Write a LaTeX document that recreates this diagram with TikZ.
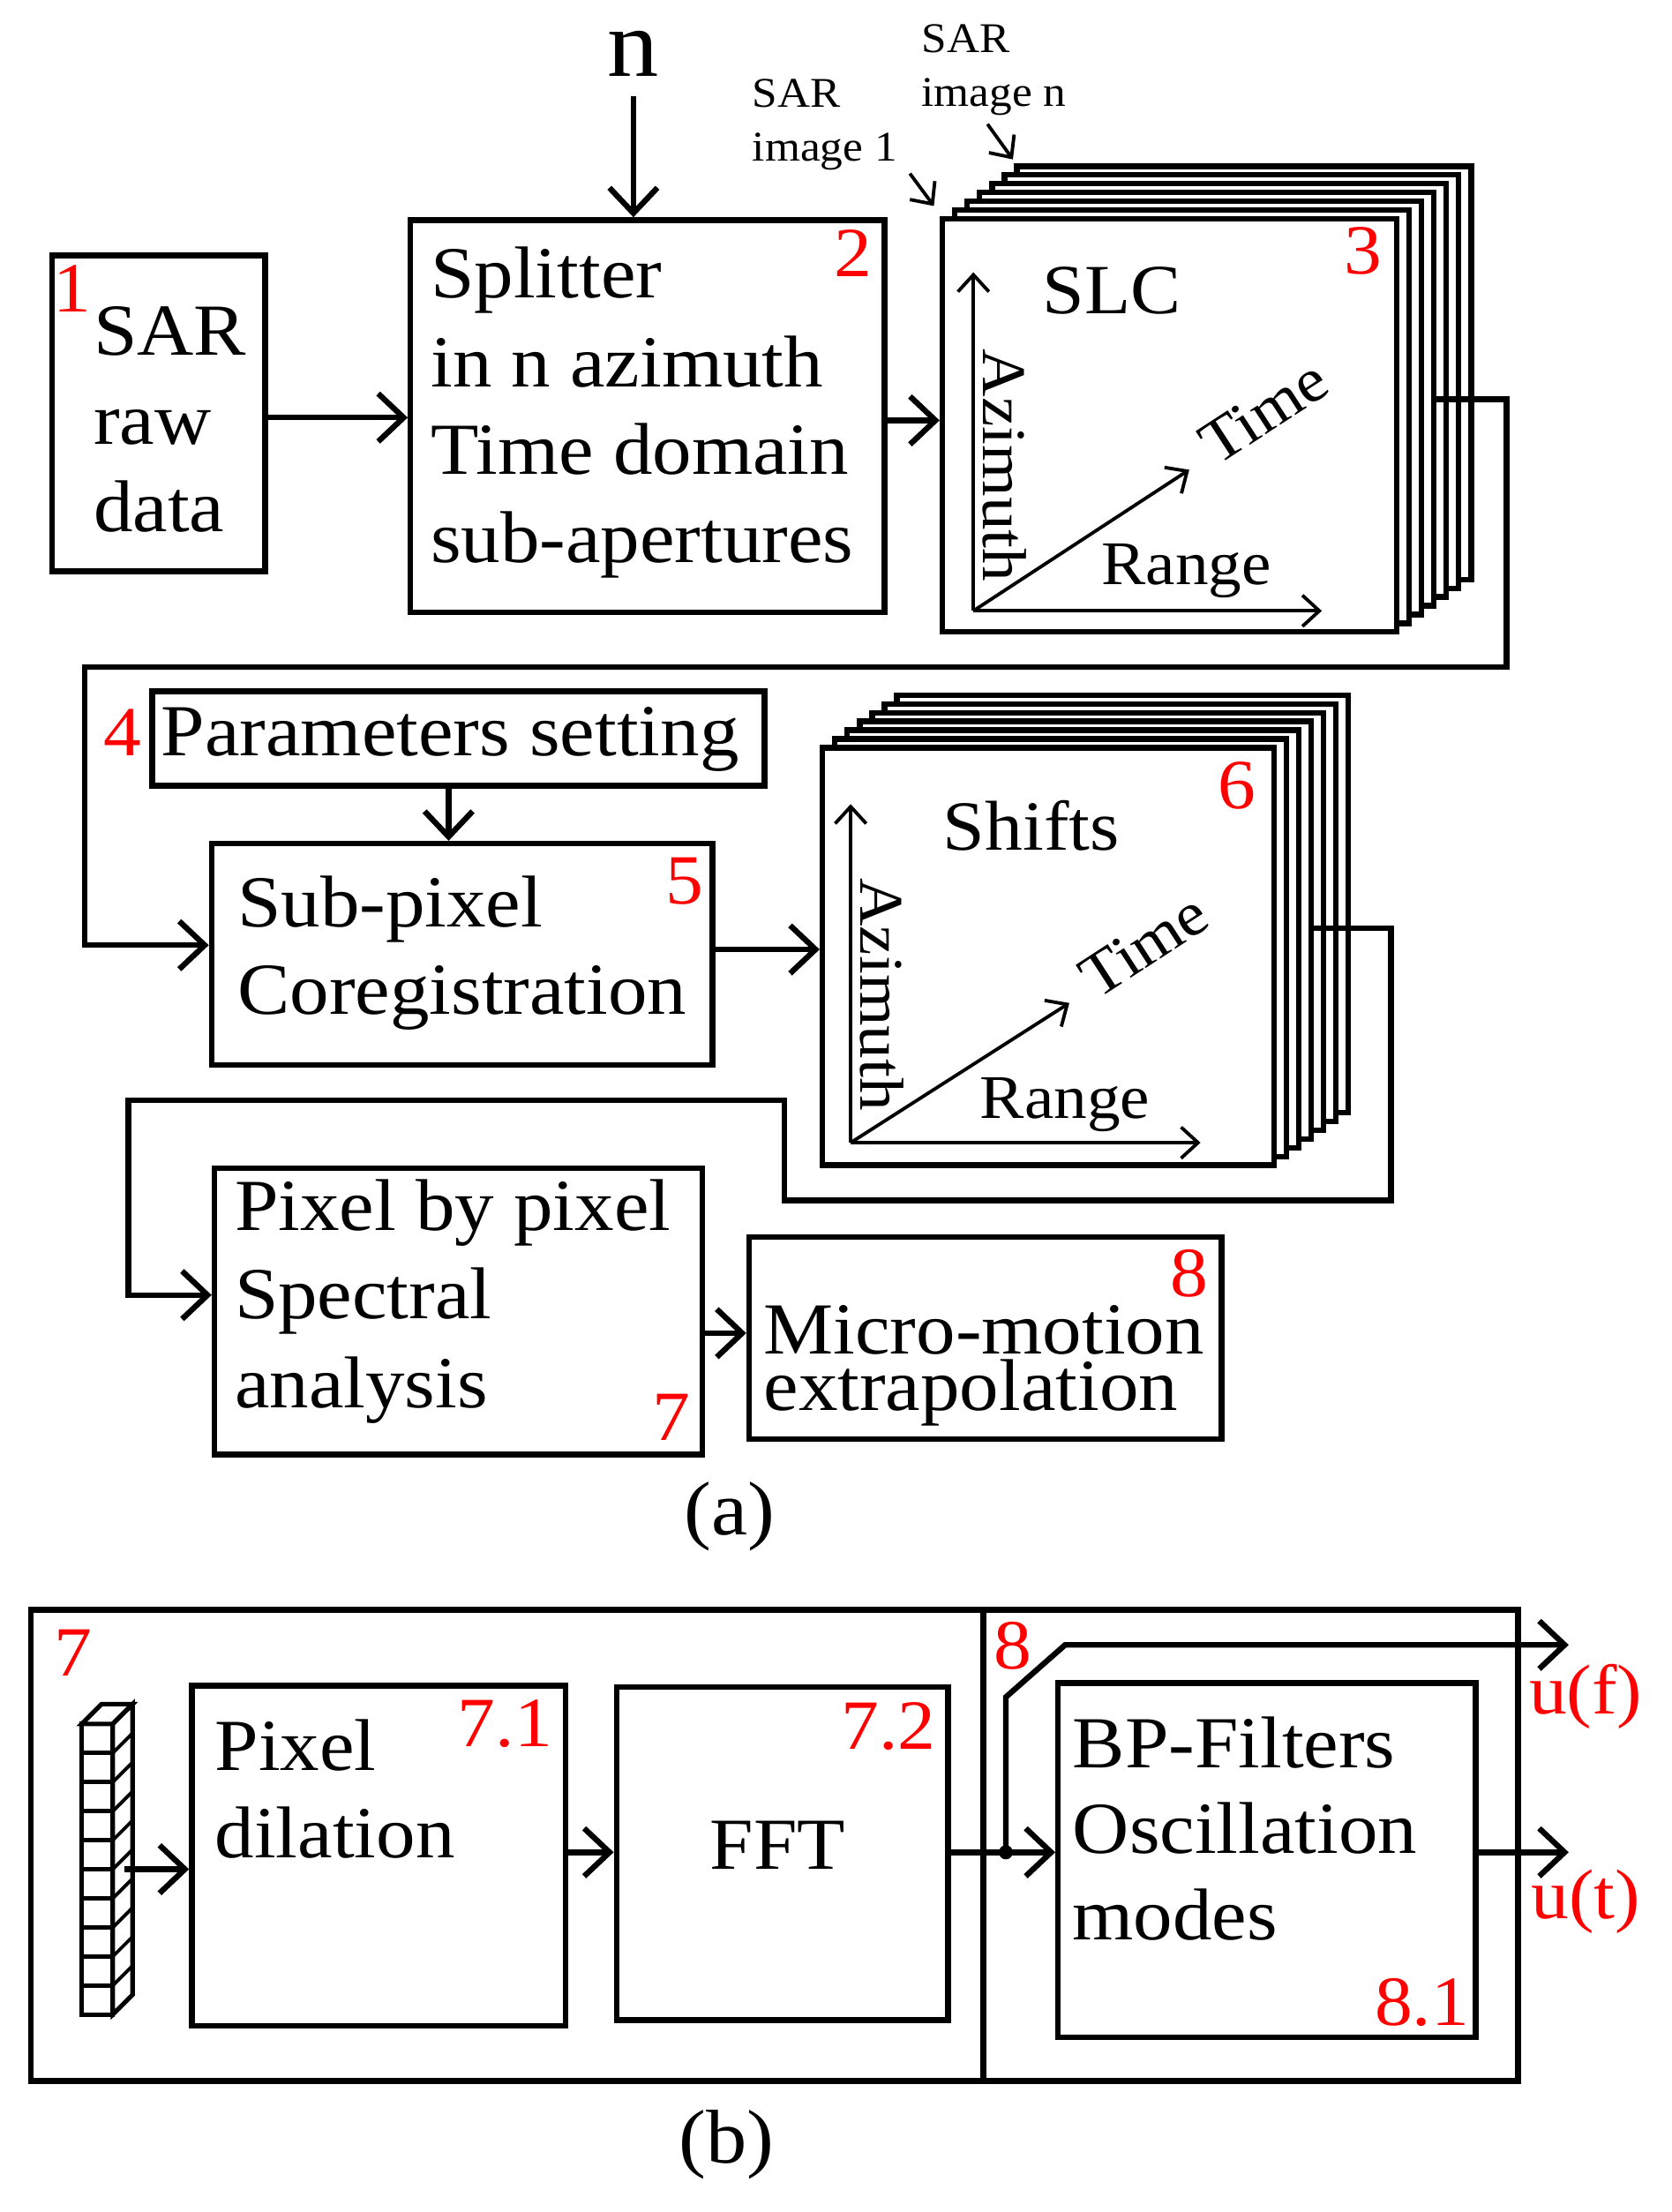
\documentclass[tikz,border=0pt]{standalone}
\usepackage{fontspec}
\setmainfont[FakeStretch=1.07]{Liberation Serif}
\usetikzlibrary{arrows.meta,fit}
\begin{document}
\begin{tikzpicture}[x=0.5pt,y=-0.5pt,
  lw/.style={line width=2pt},
  box/.style={draw,lw,inner sep=0pt,fill=white},
  arr/.style={lw,-{Straight Barb[length=9pt,width=17pt,line width=2pt]}},
  sarr/.style={line width=1.2pt,-{Straight Barb[length=6pt,width=11pt,line width=1.2pt]}},
  txt/.style={anchor=base west,inner sep=0pt,font=\fontsize{26}{30}\selectfont},
  red/.style={anchor=base,inner sep=0pt,text=red,font=\fontsize{25}{30}\selectfont},
  ax/.style={inner sep=0pt,font=\fontsize{22}{26}\selectfont},
  small/.style={anchor=north west,inner sep=0pt,align=left,font=\fontsize{15}{19}\selectfont}]
\useasboundingbox (0,0) rectangle (1185,1568);
% ---------- (a)
\node[box,fit={(37,181)(188,405)}] (b1) {};
\node[red] at (51,221) {1};
\node[txt] at (66,252) {SAR};
\node[txt] at (66,315) {raw};
\node[txt] at (66,377) {data};
\node[box,fit={(291,156)(627,434)}] (b2) {};
\node[txt] at (305,211) {Splitter};
\node[txt] at (305,274) {in n azimuth};
\node[txt] at (305,336) {Time domain};
\node[txt] at (305,399) {sub-apertures};
\node[red] at (605,196) {2};
\node[inner sep=0pt,font=\fontsize{34}{40}\selectfont] (n) at (449,38) {n};
\draw[arr] (n.south |- 0,68) -- (b2.north -| n.south);
\draw[arr] (b1.east |- 0,296) -- (b2.west |- 0,296);
% stack 3
\foreach \i in {6,5,...,1}
  \draw[lw,fill=white] ({668+\i*8.8},{155-\i*6.2}) rectangle ({990+\i*8.8},{448-\i*6.2});
\node[box,fit={(668,155)(990,448)}] (b3) {};
\draw[arr] (b2.east |- 0,298) -- (b3.west |- 0,298);
\coordinate (o3) at (690,433);
\coordinate (az3) at (690,193);
\coordinate (ra3) at (937,433);
\coordinate (ti3) at (843,333);
\draw[sarr] (o3) -- (az3);
\draw[sarr] (o3) -- (ra3);
\draw[sarr] (o3) -- (ti3);
\node[ax,font=\fontsize{25}{30}\selectfont] at (788,206) {SLC};
\node[ax,rotate=-90] at (712,330) {Azimuth};
\node[ax] at (841,405) {Range};
\node[ax,rotate=33] at (896,292) {Time};
\node[red] at (966,194) {3};
\node[small] (s1) at (533,56) {SAR\\image 1};
\node[small] (sn) at (653,17) {SAR\\image n};
\coordinate (s1e) at (662,146);
\coordinate (sne) at (718,113);
\draw[sarr] (645,123) -- (s1e);
\draw[sarr] (700,88) -- (sne);
% parameters
\node[box,fit={(108,490)(542,557)}] (b4) {};
\node[txt] at (114,536) {Parameters setting};
\node[red] at (87,536) {4};
\node[box,fit={(150,598)(505,755)}] (b5) {};
\node[txt] at (168,657) {Sub-pixel};
\node[txt] at (168,719) {Coregistration};
\node[red] at (485,641) {5};
\draw[arr] (b4.south -| 318,0) -- (b5.north -| 318,0);
\draw[arr] (1018,283) -- (1068,283) -- (1068,473) -- (60,473) -- (60,670) -- (b5.west |- 0,670);
% stack 6
\foreach \i in {6,5,...,1}
  \draw[lw,fill=white] ({583+\i*8.8},{530-\i*6.2}) rectangle ({903+\i*8.8},{826-\i*6.2});
\node[box,fit={(583,530)(903,826)}] (b6) {};
\draw[arr] (b5.east |- 0,673) -- (b6.west |- 0,673);
\coordinate (o6) at (603,810);
\coordinate (az6) at (603,570);
\coordinate (ra6) at (851,810);
\coordinate (ti6) at (758,711);
\draw[sarr] (o6) -- (az6);
\draw[sarr] (o6) -- (ra6);
\draw[sarr] (o6) -- (ti6);
\node[ax,font=\fontsize{25}{30}\selectfont] at (731,585) {Shifts};
\node[ax,rotate=-90] at (625,705) {Azimuth};
\node[ax] at (755,783) {Range};
\node[ax,rotate=33] at (811,670) {Time};
\node[red] at (877,573) {6};
% pixel spectral
\node[box,fit={(152,828)(498,1031)}] (b7) {};
\node[txt] at (166,872) {Pixel by pixel};
\node[txt] at (166,935) {Spectral};
\node[txt] at (166,998) {analysis};
\node[red] at (476,1021) {7};
\draw[arr] (930,658) -- (986,658) -- (986,851) -- (556,851) -- (556,780) -- (91,780) -- (91,918) -- (b7.west |- 0,918);
\node[box,fit={(531,877)(866,1020)}] (b8) {};
\node[txt] at (541,960) {Micro-motion};
\node[txt] at (541,1000) {extrapolation};
\node[red] at (843,919) {8};
\draw[arr] (b7.east |- 0,945) -- (b8.west |- 0,945);
\node[ax,font=\fontsize{27}{30}\selectfont] at (517,1075) {(a)};
% ---------- (b)
\node[draw,lw,inner sep=0pt,fit={(22,1141)(1076,1475)}] (outer) {};
\draw[lw] (697,1141) -- (697,1475);
\node[red] at (52,1188) {7};
% pixel column
\draw[line width=1.6pt,fill=white] (58,1222) rectangle (80,1428);
\foreach \k in {1,...,9} \draw[line width=1.6pt] (58,{1222+\k*20.6}) -- (80,{1222+\k*20.6});
\draw[line width=1.6pt,fill=white] (58,1222) -- (72,1208) -- (94,1208) -- (80,1222) -- cycle;
\draw[line width=1.6pt,fill=white] (80,1222) -- (94,1208) -- (94,1414) -- (80,1428) -- cycle;
\foreach \k in {1,...,9} \draw[line width=1.2pt] (80,{1222+\k*20.6}) -- (94,{1208+\k*20.6});
\coordinate (pc) at (88,1325);
\node[box,fit={(136,1195)(401,1436)}] (b71) {};
\node[txt] at (152,1255) {Pixel};
\node[txt] at (152,1317) {dilation};
\node[red] at (358,1238) {7.1};
\draw[arr] (pc) -- (b71.west |- pc);
\node[box,fit={(437,1196)(672,1432)}] (b72) {};
\node[txt] at (503,1325) {FFT};
\node[red] at (630,1240) {7.2};
\draw[arr] (b71.east |- 0,1313) -- (b72.west |- 0,1313);
\node[box,fit={(750,1193)(1046,1444)}] (b81) {};
\node[txt] at (760,1253) {BP-Filters};
\node[txt] at (760,1314) {Oscillation};
\node[txt] at (760,1375) {modes};
\node[red] at (1008,1436) {8.1};
\node[red] at (718,1183) {8};
\coordinate (dot) at (713,1313);
\fill (dot) circle (5);
\draw[lw] (b72.east |- dot) -- (dot);
\draw[arr] (dot) -- (b81.west |- dot);
\coordinate (uf) at (1112,1166);
\coordinate (ut) at (1112,1313);
\draw[arr] (dot) -- (713,1203) -- (755,1166) -- (uf);
\draw[arr] (b81.east |- ut) -- (ut);
\node[red] at (1124,1215) {u(f)};
\node[red] at (1124,1360) {u(t)};
\node[ax,font=\fontsize{27}{30}\selectfont] at (515,1520) {(b)};
\end{tikzpicture}
\end{document}
